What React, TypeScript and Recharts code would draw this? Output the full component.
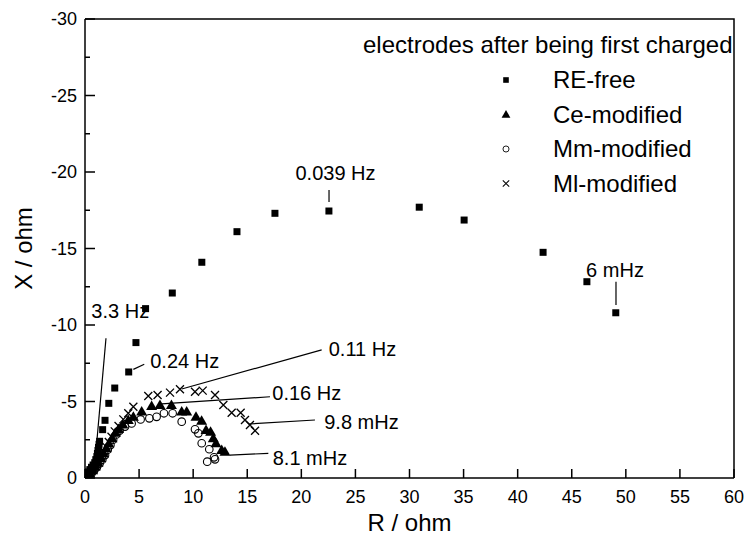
import React from 'react';
import { ScatterChart, Scatter, XAxis, YAxis, ReferenceLine } from 'recharts';

const FONT = '"Liberation Sans", Arial, Helvetica, sans-serif';

const W = 753;
const H = 544;
const MARGIN = { top: 19, right: 19, bottom: 26, left: 25 };
const Y_AXIS_W = 60;
const X_AXIS_H = 40;

// [R, X] in ohm
const reFree = [
  [0.05, -0.1], [0.15, -0.25], [0.3, -0.4], [0.45, -0.55], [0.6, -0.7], [0.75, -0.85],
  [0.9, -1.0], [1.0, -1.2], [1.1, -1.4], [1.15, -1.6], [1.2, -1.8], [1.25, -2.0],
  [1.3, -2.2], [1.35, -2.4], [1.63, -3.16], [1.85, -3.77], [2.2, -4.88], [2.75, -5.88],
  [4.04, -6.93], [4.71, -8.85], [5.6, -11.07], [8.07, -12.09], [10.8, -14.1],
  [14.05, -16.1], [17.56, -17.3], [22.55, -17.45], [30.9, -17.7], [35.05, -16.86],
  [42.35, -14.75], [46.4, -12.83], [49.07, -10.8],
];

const ceModified = [
  [0.2, -0.12], [0.45, -0.3], [0.7, -0.5], [0.95, -0.75], [1.2, -1.0], [1.45, -1.3],
  [1.7, -1.6], [1.95, -1.95], [2.2, -2.25], [2.5, -2.6], [2.8, -2.95], [3.1, -3.2],
  [3.5, -3.5], [4.0, -3.79], [4.47, -4.0], [5.24, -4.34], [6.16, -4.71], [6.93, -4.77],
  [7.99, -4.77], [8.94, -4.34], [9.4, -4.34], [10.26, -4.0], [10.78, -3.75],
  [11.19, -3.14], [11.61, -3.03], [11.86, -2.59], [12.11, -2.27], [12.64, -1.83],
  [12.94, -1.72],
];

const mmModified = [
  [0.35, -0.15], [0.6, -0.3], [0.85, -0.5], [1.1, -0.7], [1.35, -0.95], [1.6, -1.2],
  [1.85, -1.5], [2.1, -1.85], [2.35, -2.15], [2.6, -2.5], [2.9, -2.85], [3.2, -3.1],
  [3.7, -3.36], [4.31, -3.57], [5.14, -3.83], [5.95, -3.9], [6.62, -4.0], [7.3, -4.23],
  [8.1, -4.23], [8.94, -3.68], [10.17, -3.18], [10.48, -2.92], [10.79, -2.27],
  [11.49, -1.88], [11.3, -1.07], [11.93, -1.35], [12.02, -1.22],
];

const mlModified = [
  [0.1, -0.08], [0.3, -0.25], [0.55, -0.45], [0.8, -0.65], [1.05, -0.9], [1.3, -1.15],
  [1.5, -1.45], [1.75, -1.75], [1.95, -2.05], [2.2, -2.35], [2.45, -2.7], [2.75, -3.05],
  [3.1, -3.4], [3.54, -3.83], [4.0, -4.23], [4.47, -4.66], [5.85, -5.36], [6.71, -5.42],
  [7.86, -5.58], [8.78, -5.8], [10.17, -5.64], [10.88, -5.71], [12.02, -5.42],
  [12.79, -4.77], [13.56, -4.27], [14.39, -4.27], [14.79, -3.79], [15.25, -3.46],
  [15.72, -3.09],
];

const xTicks = [0, 5, 10, 15, 20, 25, 30, 35, 40, 45, 50, 55, 60];
const yTicks = [-30, -27.5, -25, -22.5, -20, -17.5, -15, -12.5, -10, -7.5, -5, -2.5, 0];

// frequency notes: text centre and leader line ends
const noteText = [
  { x: 23.16, y: -19.93, label: '0.039 Hz' },
  { x: 49.0, y: -13.59, label: '6 mHz' },
  { x: 3.26, y: -10.93, label: '3.3 Hz' },
  { x: 9.22, y: -7.65, label: '0.24 Hz' },
  { x: 25.65, y: -8.43, label: '0.11 Hz' },
  { x: 20.5, y: -5.58, label: '0.16 Hz' },
  { x: 25.56, y: -3.68, label: '9.8 mHz' },
  { x: 20.8, y: -1.33, label: '8.1 mHz' },
];

const noteLines = [
  [22.56, -18.82, 22.56, -18.04],
  [49.09, -12.83, 49.09, -11.31],
  [1.94, -9.13, 1.08, -2.27],
  [4.47, -7.1, 5.48, -7.43],
  [21.88, -8.37, 8.94, -5.82],
  [17.1, -5.31, 7.09, -4.84],
  [21.26, -3.79, 15.1, -3.53],
  [16.95, -1.61, 13.4, -1.5],
];

const legendTitle = 'electrodes after being first charged';
const seriesNames = ['RE-free', 'Ce-modified', 'Mm-modified', 'Ml-modified'];

const pts = (arr: number[][]) => arr.map(([x, y]) => ({ x, y }));

const Square = (p: any) => <rect x={p.cx - 3.5} y={p.cy - 3.5} width={7} height={7} fill="#000" />;
const Triangle = (p: any) => (
  <polygon points={`${p.cx},${p.cy - 5.5} ${p.cx + 5.5},${p.cy + 4} ${p.cx - 5.5},${p.cy + 4}`} fill="#000" />
);
const Ring = (p: any) => <circle cx={p.cx} cy={p.cy} r={3.8} fill="none" stroke="#000" strokeWidth={1.1} />;
const Cross = (p: any) => (
  <path
    d={`M${p.cx - 4},${p.cy - 4}L${p.cx + 4},${p.cy + 4}M${p.cx + 4},${p.cy - 4}L${p.cx - 4},${p.cy + 4}`}
    stroke="#000"
    strokeWidth={1.3}
  />
);

const NoteLabel = (p: any) => (
  <text x={p.cx} y={p.cy} dy="0.35em" textAnchor="middle" fontSize={20} fontFamily={FONT} fill="#000">
    {p.payload.label}
  </text>
);

const XTick = (p: any) => (
  <g>
    <line x1={p.x} y1={p.y} x2={p.x} y2={p.y - 9} stroke="#000" strokeWidth={1.5} />
    <text x={p.x} y={p.y + 25} textAnchor="middle" fontSize={18} fontFamily={FONT} fill="#000">
      {p.payload.value}
    </text>
  </g>
);

const YTick = (p: any) => {
  const v = p.payload.value;
  const major = v % 5 === 0;
  return (
    <g>
      <line x1={p.x} y1={p.y} x2={p.x + (major ? 10 : 5)} y2={p.y} stroke="#000" strokeWidth={1.5} />
      {major && (
        <text x={p.x - 8} y={p.y + 6} textAnchor="end" fontSize={18} fontFamily={FONT} fill="#000">
          {v}
        </text>
      )}
    </g>
  );
};

const legendShapes = [Square, Triangle, Ring, Cross];

// overlay: plot frame (top/right edges) and legend block
const Overlay = () => {
  const left = MARGIN.left + Y_AXIS_W;
  const top = MARGIN.top;
  const right = W - MARGIN.right;
  const bottom = H - MARGIN.bottom - X_AXIS_H;
  return (
    <svg
      width={W}
      height={H}
      style={{ position: 'absolute', left: 0, top: 0, overflow: 'visible', pointerEvents: 'none' }}
    >
      <path d={`M${left},${top}H${right}V${bottom}`} fill="none" stroke="#000" strokeWidth={1.5} />
      <text x={363} y={53} fontSize={24} fontFamily={FONT} fill="#000">{legendTitle}</text>
      {seriesNames.map((name, i) => {
        const Shape = legendShapes[i];
        const cy = 80 + i * 34.5;
        return (
          <g key={name}>
            <g transform={`translate(506,${cy}) scale(0.8) translate(-506,${-cy})`}>
              <Shape cx={506} cy={cy} />
            </g>
            <text x={553} y={cy + 8} fontSize={24} fontFamily={FONT} fill="#000">{name}</text>
          </g>
        );
      })}
    </svg>
  );
};

export default function App() {
  return (
    <div style={{ position: 'absolute', left: 0, top: 0, width: W, height: H, background: '#fff' }}>
      <ScatterChart width={W} height={H} margin={MARGIN}>
        <XAxis
          type="number"
          dataKey="x"
          domain={[0, 60]}
          ticks={xTicks}
          interval={0}
          tickLine={false}
          tickSize={0}
          tickMargin={0}
          tick={<XTick />}
          height={X_AXIS_H}
          axisLine={{ stroke: '#000', strokeWidth: 1.5 }}
          allowDataOverflow
          label={(props: any) => {
            const vb = props.viewBox || { x: 85, y: 478, width: 649 };
            return (
              <text x={vb.x + vb.width / 2} y={vb.y + 53} textAnchor="middle" fontSize={24} fontFamily={FONT} fill="#000">
                R / ohm
              </text>
            );
          }}
        />
        <YAxis
          type="number"
          dataKey="y"
          domain={[-30, 0]}
          reversed
          ticks={yTicks}
          interval={0}
          tickLine={false}
          tickSize={0}
          tickMargin={0}
          tick={<YTick />}
          width={Y_AXIS_W}
          axisLine={{ stroke: '#000', strokeWidth: 1.5 }}
          allowDataOverflow
          label={(props: any) => {
            const vb = props.viewBox || { x: 25, y: 19, height: 459 };
            const cx = vb.x - 1;
            const cy = vb.y + vb.height / 2;
            return (
              <text
                x={cx}
                y={cy}
                dy="0.35em"
                transform={`rotate(-90, ${cx}, ${cy})`}
                textAnchor="middle"
                fontSize={24}
                fontFamily={FONT}
                fill="#000"
              >
                X / ohm
              </text>
            );
          }}
        />
        {noteLines.map(([x1, y1, x2, y2], i) => (
          <ReferenceLine
            key={i}
            segment={[{ x: x1, y: y1 }, { x: x2, y: y2 }]}
            stroke="#000"
            strokeWidth={1.2}
          />
        ))}
        <Scatter name="RE-free" data={pts(reFree)} shape={Square} isAnimationActive={false} />
        <Scatter name="Ce-modified" data={pts(ceModified)} shape={Triangle} isAnimationActive={false} />
        <Scatter name="Mm-modified" data={pts(mmModified)} shape={Ring} isAnimationActive={false} />
        <Scatter name="Ml-modified" data={pts(mlModified)} shape={Cross} isAnimationActive={false} />
        <Scatter name="notes" data={noteText} shape={NoteLabel} legendType="none" isAnimationActive={false} />
      </ScatterChart>
      <Overlay />
    </div>
  );
}
